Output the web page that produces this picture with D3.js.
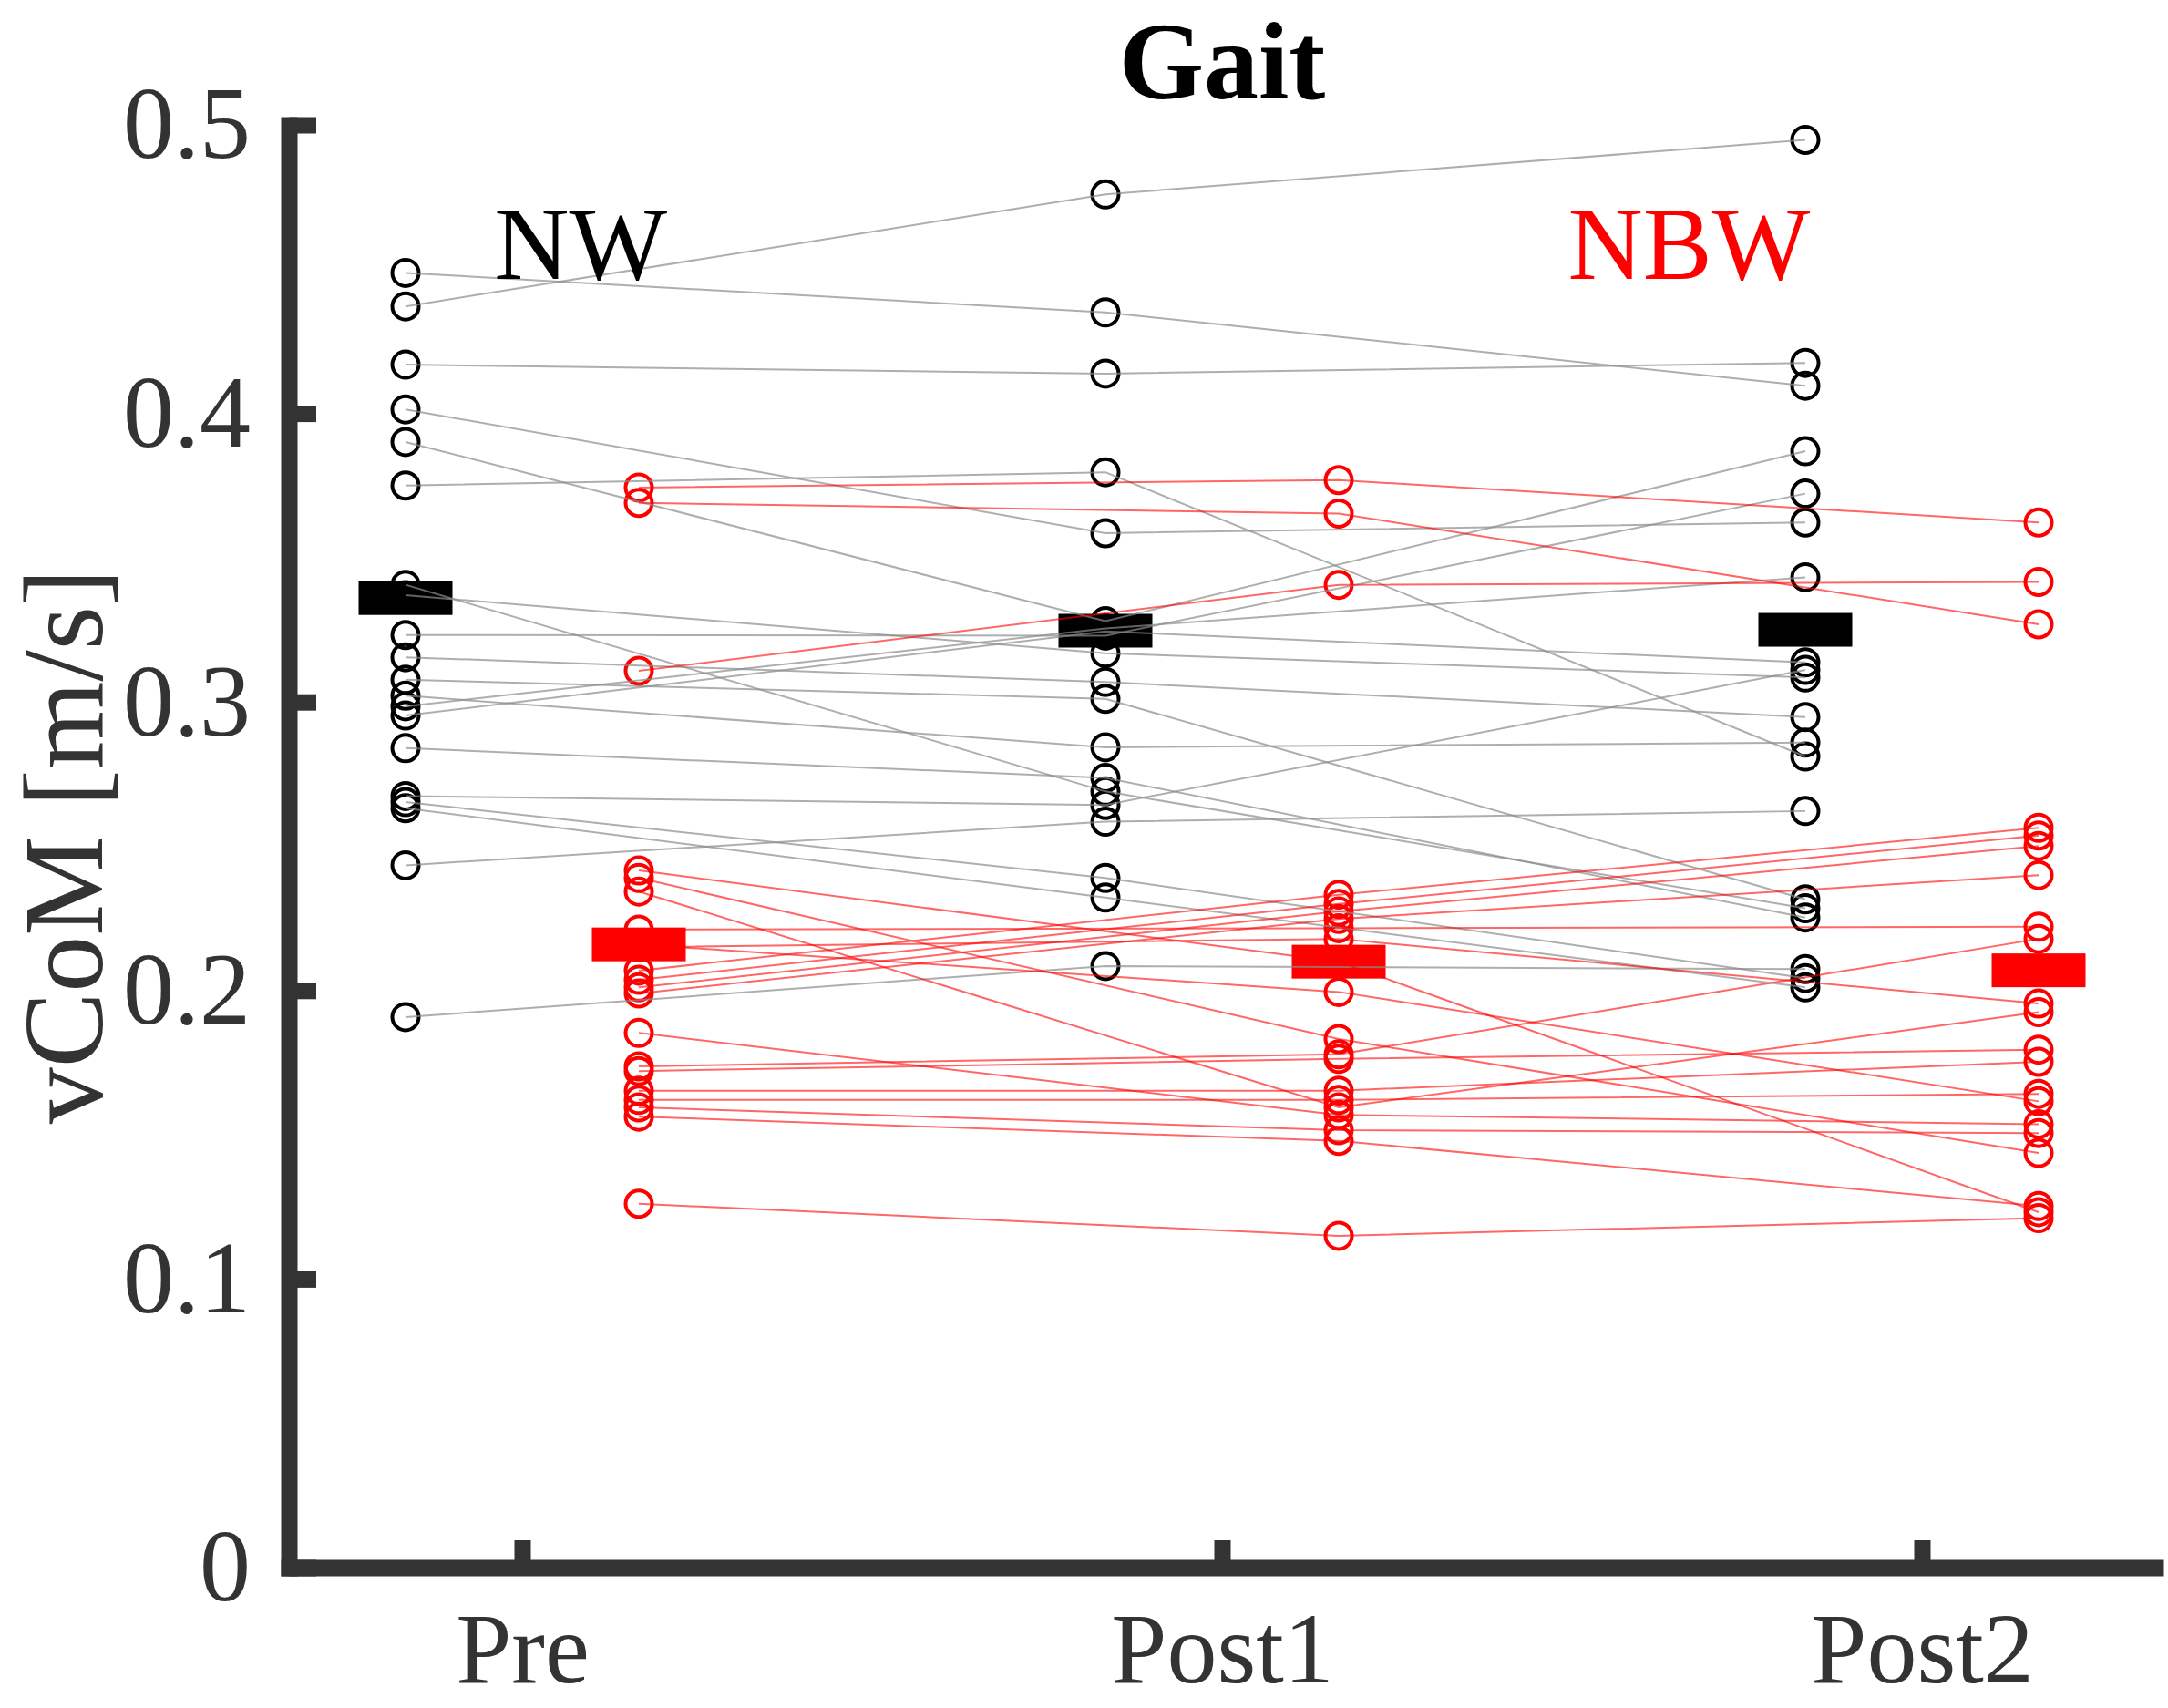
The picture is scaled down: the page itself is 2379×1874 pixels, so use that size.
<!DOCTYPE html>
<html>
<head>
<meta charset="utf-8">
<script src="https://cdn.jsdelivr.net/npm/d3@7"></script>
<style>
  body { margin: 0; background: #fff; }
  text { font-family: "Liberation Serif", "Times New Roman", serif; }
</style>
</head>
<body>
<div id="chart"></div>
<script>
// data, one entry per subject (same index = same subject)
const categories = ["Pre", "Post1", "Post2"];
const yTicks = [0, 0.1, 0.2, 0.3, 0.4, 0.5];
const yTickLabels = ["0", "0.1", "0.2", "0.3", "0.4", "0.5"];

const nwPre   = [0.4487, 0.4371, 0.4169, 0.4014, 0.3901, 0.3750, 0.3406, 0.3370, 0.3232, 0.3155,
                 0.3077, 0.3022, 0.2985, 0.2953, 0.2840, 0.2674, 0.2653, 0.2632, 0.2434, 0.1908];
const nwPost1 = [0.4350, 0.4759, 0.4138, 0.3585, 0.3280, 0.3796, 0.2690, 0.3169, 0.3230, 0.3069,
                 0.3011, 0.2843, 0.3255, 0.3245, 0.2737, 0.2643, 0.2390, 0.2322, 0.2585, 0.2085];
const nwPost2 = [0.4096, 0.4948, 0.4175, 0.3622, 0.3869, 0.2811, 0.2285, 0.3085, 0.3722, 0.2948,
                 0.2316, 0.2859, 0.3432, 0.3137, 0.2253, 0.3111, 0.2043, 0.2011, 0.2622, 0.2074];

const nbwPre   = [0.3743, 0.3690, 0.3108, 0.2416, 0.2390, 0.2343, 0.2211, 0.2160, 0.2150, 0.2069, 0.2037,
                  0.2011, 0.1990, 0.1853, 0.1737, 0.1721, 0.1653, 0.1621, 0.1595, 0.1563, 0.1261];
const nbwPost1 = [0.3769, 0.3653, 0.3406, 0.2100, 0.1832, 0.1595, 0.2216, 0.1995, 0.2179, 0.2332, 0.2300,
                  0.2274, 0.2248, 0.1569, 0.1779, 0.1763, 0.1653, 0.1621, 0.1516, 0.1479, 0.1150];
const nbwPost2 = [0.3622, 0.3269, 0.3416, 0.1232, 0.1437, 0.1925, 0.2221, 0.1616, 0.1955, 0.2564, 0.2537,
                  0.2501, 0.2400, 0.1537, 0.2179, 0.1795, 0.1753, 0.1642, 0.1506, 0.1253, 0.1211];

// group mean markers
const nwMean  = [0.336, 0.3247, 0.325];
const nbwMean = [0.216, 0.210, 0.207];

const W = 2379, H = 1874;
const red = "#ff0000";

const svg = d3.select("#chart").append("svg")
    .attr("width", W)
    .attr("height", H);

// scales : categories sit at 1,2,3 ; groups shifted by 1/6
const x = d3.scaleLinear().domain([2/3, 10/3]).range([317, 2365]);
const y = d3.scaleLinear().domain([0, 0.5]).range([1720, 137]);
const off = 1/6;

function group(pre, post1, post2) {
  return pre.map((d, i) => [pre[i], post1[i], post2[i]]);
}
const nw = group(nwPre, nwPost1, nwPost2);
const nbw = group(nbwPre, nbwPost1, nbwPost2);

// circles first
function drawCircles(subjects, dx, color) {
  const pts = [];
  subjects.forEach(s => s.forEach((v, k) => pts.push({c: k + 1, v: v})));
  svg.append("g").selectAll("circle").data(pts).join("circle")
      .attr("cx", d => x(d.c + dx))
      .attr("cy", d => y(d.v))
      .attr("r", 14.5)
      .attr("fill", "none")
      .attr("stroke", color)
      .attr("stroke-width", 4);
}
drawCircles(nw, -off, "#000");
drawCircles(nbw, off, red);

// mean bars on top of the circles
function drawMeans(means, dx, color) {
  svg.append("g").selectAll("rect").data(means).join("rect")
      .attr("x", (d, i) => x(i + 1 + dx) - 51.5)
      .attr("y", d => y(d) - 18.5)
      .attr("width", 103)
      .attr("height", 37)
      .attr("fill", color);
}
drawMeans(nwMean, -off, "#000");
drawMeans(nbwMean, off, red);

// subject lines
const line = d3.line()
    .x(d => x(d.c))
    .y(d => y(d.v));

function drawLines(subjects, dx, color, opacity) {
  svg.append("g").selectAll("path").data(subjects).join("path")
      .attr("fill", "none")
      .attr("stroke", color)
      .attr("stroke-opacity", opacity)
      .attr("stroke-width", 2)
      .attr("d", s => line(s.map((v, k) => ({c: k + 1 + dx, v: v}))));
}
drawLines(nw, -off, "#8c8c8c", 0.7);
drawLines(nbw, off, red, 0.6);

// axes
const axisColor = "#333";

const gy = svg.append("g")
    .attr("transform", `translate(${x(2/3)},0)`)
    .call(d3.axisLeft(y)
        .tickValues(yTicks)
        .tickFormat((d, i) => yTickLabels[i])
        .tickSizeInner(-30)
        .tickSizeOuter(0)
        .tickPadding(42));

const gx = svg.append("g")
    .attr("transform", `translate(0,${y(0)})`)
    .call(d3.axisBottom(x)
        .tickValues([1, 2, 3])
        .tickFormat((d, i) => categories[i])
        .tickSizeInner(-30)
        .tickSizeOuter(0));

[gy, gx].forEach(g => {
  g.select(".domain")
      .attr("stroke", axisColor)
      .attr("stroke-width", 18)
      .attr("stroke-linecap", "square");
  g.selectAll(".tick line")
      .attr("stroke", axisColor)
      .attr("stroke-width", 18);
  g.selectAll(".tick text")
      .attr("fill", axisColor)
      .attr("font-family", "Liberation Serif")
      .attr("font-size", 112);
});
// x labels a little higher so they stay inside the picture
gx.selectAll(".tick text").attr("y", 126).attr("dy", null).attr("font-size", 110);

// y label
svg.append("text")
    .attr("transform", `translate(112,${(y(0) + y(0.5)) / 2}) rotate(-90)`)
    .attr("text-anchor", "middle")
    .attr("fill", axisColor)
    .attr("font-size", 124)
    .text("vCoM [m/s]");

// title (kept just inside the top edge)
svg.append("text")
    .attr("x", x(2))
    .attr("y", 108)
    .attr("text-anchor", "middle")
    .attr("font-weight", "bold")
    .attr("font-size", 120)
    .attr("fill", "#000")
    .text("Gait");

// group names
svg.append("text")
    .attr("x", x(0.96))
    .attr("y", y(0.4465))
    .attr("font-size", 114)
    .attr("fill", "#000")
    .text("NW");
svg.append("text")
    .attr("x", x(2.494))
    .attr("y", y(0.4465))
    .attr("font-size", 114)
    .attr("fill", red)
    .text("NBW");
</script>
</body>
</html>
